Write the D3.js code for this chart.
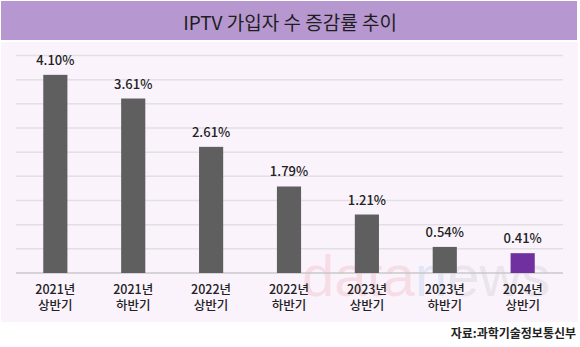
<!DOCTYPE html>
<html><head><meta charset="utf-8">
<script src="https://cdn.jsdelivr.net/npm/d3@7"></script>
<style>html,body{margin:0;padding:0;background:#fff;}svg{display:block;}</style>
</head><body>
<svg id="c" width="580" height="347"></svg>
<script>
const titleText = "IPTV 가입자 수 증감률 추이";
const years = ["2021년","2021년","2022년","2022년","2023년","2023년","2024년"];
const halves = ["상반기","하반기","상반기","하반기","상반기","하반기","상반기"];
const values = [4.10, 3.61, 2.61, 1.79, 1.21, 0.54, 0.41];
const gridTicks = [0, 0.5, 1, 1.5, 2, 2.5, 3, 3.5, 4, 4.5];
const sourceText = "자료:과학기술정보통신부";

const svg = d3.select("#c");
const font = "'Noto Sans CJK KR','Noto Sans',sans-serif";

// title bar
svg.append("rect").attr("x",1).attr("y",1).attr("width",576).attr("height",39).attr("fill","#b797cf");
svg.append("text").attr("x",290).attr("y",21).attr("text-anchor","middle").attr("dominant-baseline","central")
  .attr("font-family",font).attr("font-size",19).attr("fill","#1e1e1e").text(titleText);

// panel
svg.append("rect").attr("x",1).attr("y",42).attr("width",577).attr("height",280).attr("fill","#faf3fc");

const idx = d3.range(values.length);
const x = d3.scaleBand().domain(idx).range([16, 562]).paddingInner(0.69).paddingOuter(0.35);
const y = d3.scaleLinear().domain([0, 4.5]).range([273, 55.5]);

// watermark (faint)
const wm = svg.append("text").attr("x",302).attr("y",296).attr("font-family","'Liberation Sans',Arial,sans-serif")
  .attr("font-size",58).attr("opacity",0.12);
wm.append("tspan").attr("fill","#e04040").text("data");
wm.append("tspan").attr("fill","#3a88d0").text("n");
wm.append("tspan").attr("fill","#808080").text("ews");

// grid
svg.append("g").selectAll("line").data(gridTicks).join("line")
  .attr("x1",16).attr("x2",563).attr("y1",d=>y(d)).attr("y2",d=>y(d))
  .attr("stroke",(d)=> d===0 ? "#c8c8c8" : "#e2e0e2").attr("stroke-width",1.5);

// bars
svg.append("g").selectAll("rect").data(idx).join("rect")
  .attr("x",i=>x(i)).attr("width",x.bandwidth())
  .attr("y",i=>y(values[i])).attr("height",i=>y(0)-y(values[i]))
  .attr("fill",i=> i===values.length-1 ? "#7030a0" : "#5f5f5f");

// value labels
svg.append("g").selectAll("text").data(idx).join("text")
  .attr("x",i=>x(i)+x.bandwidth()/2).attr("y",i=>y(values[i])-10)
  .attr("text-anchor","middle").attr("font-family",font).attr("font-size",13).attr("font-weight",500)
  .attr("fill","#222").text(i=>values[i].toFixed(2)+"%");

// category labels
const cat = svg.append("g");
cat.selectAll("text.yr").data(idx).join("text").attr("class","yr")
  .attr("x",i=>x(i)+x.bandwidth()/2).attr("y",288).attr("dominant-baseline","central")
  .attr("text-anchor","middle").attr("font-family",font).attr("font-size",12.5).attr("font-weight",500)
  .attr("fill","#222").text(i=>years[i]);
cat.selectAll("text.hf").data(idx).join("text").attr("class","hf")
  .attr("x",i=>x(i)+x.bandwidth()/2).attr("y",304).attr("dominant-baseline","central")
  .attr("text-anchor","middle").attr("font-family",font).attr("font-size",12.5).attr("font-weight",500)
  .attr("fill","#222").text(i=>halves[i]);

// source
svg.append("text").attr("x",576).attr("y",332).attr("dominant-baseline","central").attr("text-anchor","end")
  .attr("font-family",font).attr("font-size",12).attr("font-weight",700).attr("fill","#222").text(sourceText);
</script>
</body></html>
